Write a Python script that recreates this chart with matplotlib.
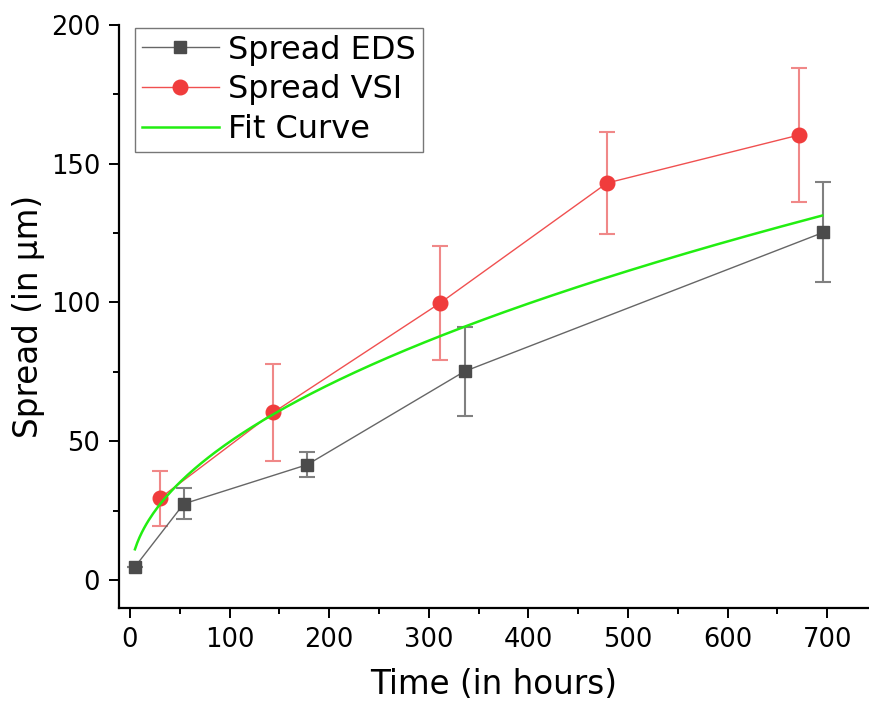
import numpy as np
import matplotlib
matplotlib.use("Agg")
import matplotlib.pyplot as plt
from matplotlib.ticker import MultipleLocator
from matplotlib.lines import Line2D

# Spread measured by EDS
eds_time = [5, 54, 178, 336, 696]
eds_spread = [4.8, 27.5, 41.6, 75.2, 125.2]
eds_err = [0, 5.6, 4.6, 16.0, 18.0]

# Spread measured by VSI
vsi_time = [30, 144, 311, 479, 672]
vsi_spread = [29.5, 60.4, 99.7, 143.0, 160.3]
vsi_err = [9.8, 17.6, 20.5, 18.4, 24.0]

# Square-root growth fit: spread = k * t**n
fit_k = 4.98
fit_n = 0.5
fit_t_start, fit_t_end = 5, 695

plt.rcParams['font.family'] = ['DejaVu Sans']

fig = plt.figure(figsize=(8.69, 7.04), dpi=100)
ax = fig.add_axes([119 / 869, 1 - 608 / 704, 1 - 119 / 869, (608 - 24.7) / 704])

gray = '#4b4b4b'
red = '#f03c3c'
green = '#22ee11'
eds_line = '#666666'
vsi_line = '#f05050'

ax.errorbar(eds_time, eds_spread, yerr=eds_err, color=eds_line, lw=1.0,
            marker='s', ms=9, mfc=gray, mec=gray, ecolor='#808080',
            elinewidth=1.5, capsize=5.5, capthick=1.5, zorder=3)
ax.errorbar(vsi_time, vsi_spread, yerr=vsi_err, color=vsi_line, lw=1.0,
            marker='o', ms=10.5, mfc=red, mec=red, ecolor='#f08888',
            elinewidth=1.5, capsize=5.5, capthick=1.5, zorder=3)

t_fit = np.linspace(fit_t_start, fit_t_end, 300)
ax.plot(t_fit, fit_k * t_fit ** fit_n, color=green, lw=1.8, zorder=4)

ax.set_xlim(-11, 742)
ax.set_ylim(-10, 200)
ax.xaxis.set_major_locator(MultipleLocator(100))
ax.xaxis.set_minor_locator(MultipleLocator(50))
ax.yaxis.set_major_locator(MultipleLocator(50))
ax.yaxis.set_minor_locator(MultipleLocator(25))

for side in ('top', 'right'):
    ax.spines[side].set_visible(False)
for side in ('left', 'bottom'):
    ax.spines[side].set_linewidth(1.6)

ax.tick_params(which='major', direction='out', length=7.5, width=1.4,
               labelsize=18.5, pad=6)
ax.tick_params(which='minor', direction='out', length=4, width=1.4)

ax.set_xlabel('Time (in hours)', fontsize=23.5, labelpad=11)
ax.set_ylabel('Spread (in μm)', fontsize=23.5, labelpad=4)

handles = [
    Line2D([], [], color=eds_line, lw=1.0, marker='s', ms=9, mfc=gray, mec=gray),
    Line2D([], [], color=vsi_line, lw=1.0, marker='o', ms=10.5, mfc=red, mec=red),
    Line2D([], [], color=green, lw=1.8),
]
labels = ['Spread EDS', 'Spread VSI', 'Fit Curve']
leg = ax.legend(handles, labels, loc='upper left',
                bbox_to_anchor=(135 / 869, 1 - 27.5 / 704),
                bbox_transform=fig.transFigure, fontsize=23, frameon=True,
                fancybox=False, edgecolor='#777777', framealpha=1,
                handlelength=2.4, handletextpad=0.3, labelspacing=0.28,
                borderpad=0.22, borderaxespad=0.0)
leg.get_frame().set_linewidth(1.0)

fig.savefig('out.png', dpi=100)
